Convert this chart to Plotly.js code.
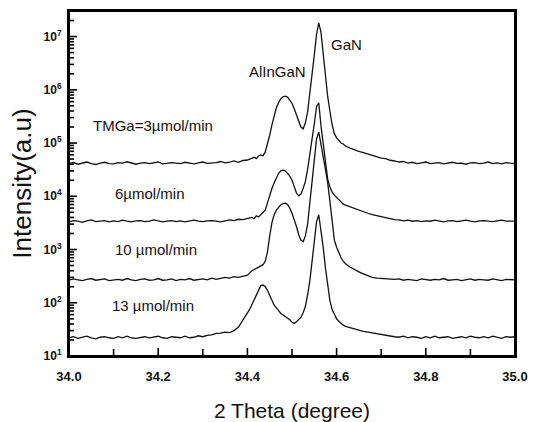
<!DOCTYPE html>
<html>
<head>
<meta charset="utf-8">
<script src="https://cdn.plot.ly/plotly-3.0.1.min.js"></script>
<style>
html,body{margin:0;padding:0;background:#fff;}
#wrap{position:relative;width:536px;height:422px;}
#chart{width:536px;height:422px;}
#frame{position:absolute;left:68px;top:10px;width:448px;height:347px;box-sizing:border-box;border:2px solid #000;pointer-events:none;}
</style>
</head>
<body>
<div id="wrap"><div id="chart"></div><div id="frame"></div></div>
<script>
// 2-theta positions (degree)
var twoTheta = [
 34.00,34.01,34.02,34.03,34.04,34.05,34.06,34.07,34.08,34.09,
 34.10,34.11,34.12,34.13,34.14,34.15,34.16,34.17,34.18,34.19,
 34.20,34.21,34.22,34.23,34.24,34.25,34.26,34.27,34.28,34.29,
 34.30,34.31,34.32,34.33,34.34,34.35,34.36,34.37,34.38,34.39,
 34.40,
 34.405,34.41,34.415,34.42,34.425,34.43,34.435,34.44,34.445,34.45,
 34.455,34.46,34.465,34.47,34.475,34.48,34.485,34.49,34.495,34.50,
 34.505,34.51,34.515,34.52,34.525,34.53,34.535,34.54,34.545,34.55,
 34.555,34.56,34.565,34.57,34.575,34.58,34.585,34.59,34.595,34.60,
 34.605,34.61,34.615,34.62,
 34.63,34.64,34.65,34.66,34.67,34.68,34.69,34.70,34.71,34.72,
 34.73,34.74,34.75,34.76,34.77,34.78,34.79,34.80,34.81,34.82,
 34.83,34.84,34.85,34.86,34.87,34.88,34.89,34.90,34.91,34.92,
 34.93,34.94,34.95,34.96,34.97,34.98,34.99,35.00
];

// TMGa = 3 umol/min
var tmga3 = [
 41000,43000,40000,42500,44000,41000,39500,42000,43500,41000,
 40500,43000,42000,44500,41500,40000,42000,43000,41000,42500,
 44000,40500,41500,43000,42000,41000,43500,42000,40500,42500,
 44000,41500,42000,43000,45000,42500,44000,46000,43500,47000,
 48000,
 50000,52000,54000,51000,57000,60000,58000,68000,95000,140000,
 220000,340000,460000,580000,680000,740000,760000,730000,650000,560000,
 440000,330000,250000,200000,185000,240000,380000,800000,2000000,4500000,
 11000000,18000000,12000000,4500000,1700000,750000,400000,220000,150000,125000,
 112000,100000,96000,88000,
 80000,74000,70000,66000,62000,58500,56000,52000,51000,47500,
 46000,44000,45000,42000,43500,41000,42500,44000,41000,42000,
 43000,40500,42000,43500,41500,42000,40000,42500,43000,41000,
 42000,44000,41000,42500,40500,43000,42000,41500
];

// 6 umol/min
var tmga6 = [
 3300,3500,3400,3250,3450,3600,3350,3400,3500,3300,
 3450,3350,3550,3400,3300,3450,3500,3350,3400,3600,
 3450,3300,3400,3500,3350,3450,3300,3400,3550,3400,
 3350,3450,3500,3400,3300,3450,3600,3500,3700,3650,
 3800,
 3900,4000,3800,4300,4100,4500,4800,5500,7500,10500,
 14000,18000,22000,27000,30000,31000,30000,27000,24000,20000,
 15000,11500,10200,11000,14000,19000,32000,60000,110000,230000,
 480000,570000,210000,95000,40000,21000,15000,12000,10500,9500,
 8500,7600,7100,6800,
 6300,5900,5400,5100,4800,4500,4300,4100,3900,3750,
 3650,3600,3450,3550,3400,3500,3350,3450,3400,3550,
 3400,3300,3450,3500,3350,3400,3550,3400,3300,3450,
 3500,3400,3350,3450,3550,3400,3450,3400
];

// 10 umol/min
var tmga10 = [
 265,280,270,260,275,285,265,270,280,260,
 270,275,265,285,270,260,275,280,265,270,
 285,265,270,280,260,275,270,285,265,275,
 280,270,290,275,285,300,290,310,300,320,
 330,
 360,400,420,440,470,500,520,600,900,1800,
 3200,4500,5500,6200,6900,7300,7400,7000,6000,4800,
 3700,2700,1900,1500,1400,1800,3000,8000,18000,50000,
 120000,160000,100000,55000,32000,18000,8000,3800,1500,1100,
 850,700,600,540,
 470,420,380,350,320,300,290,285,280,275,
 275,280,265,275,270,260,280,270,265,275,
 270,285,265,270,275,260,270,280,265,275,
 270,265,280,270,260,275,270,268
];

// 13 umol/min
var tmga13 = [
 22,23,21.5,22.5,23.5,22,21,22.5,23,22,
 21.5,23,22,23.5,22,21.5,22.5,23,22,22.5,
 23.5,22,21.5,23,22.5,22,23.5,22,22.5,24,
 23,24.5,25,26.5,27,28,27.5,30,35,48,
 62,
 75,92,115,145,180,210,215,200,170,140,
 110,90,80,70,63,59,55,52,48,43,
 41,44,48,53,65,85,140,260,600,1300,
 3300,4500,2300,1100,450,200,110,75,60,50,
 45,41,38,36,
 34,32,30,29,28,27,26,25,24,23.5,
 23,22.5,23.5,22,23,22.5,21.5,23,22,23.5,
 22,22.5,23,21.5,22.5,23,22,23.5,22.5,22,
 23,22,23.5,22.5,21.5,23,22.5,23
];

var seriesList = [tmga3, tmga6, tmga10, tmga13];

var xTickVals = [34.0, 34.2, 34.4, 34.6, 34.8, 35.0];
var xTickText = ['34.0', '34.2', '34.4', '34.6', '34.8', '35.0'];
var xMinorVals = [34.1, 34.3, 34.5, 34.7, 34.9];
var yTickVals = [1e1, 1e2, 1e3, 1e4, 1e5, 1e6, 1e7];
var yTickText = ['10<sup>1</sup>','10<sup>2</sup>','10<sup>3</sup>','10<sup>4</sup>','10<sup>5</sup>','10<sup>6</sup>','10<sup>7</sup>'];

var labelTexts = ['TMGa=3\u00b5mol/min','6\u00b5mol/min','10 \u00b5mol/min','13 \u00b5mol/min','AlInGaN','GaN'];
var labelX = [34.05, 34.098, 34.098, 34.092, 34.468, 34.622];
var labelY = [2.13e5, 1.13e4, 9.8e2, 8.7e1, 2.2e6, 7.1e6];

var X_RANGE = [34, 35];
var Y_LOG_RANGE = [1, 7.48];

var traces = seriesList.map(function (s) {
  return { x: twoTheta, y: s, type: 'scatter', mode: 'lines',
           line: { color: '#111111', width: 1.3 }, hoverinfo: 'skip' };
});

// inside tick marks, built from the axis ranges and tick arrays
var plotW = 536 - 69 - 21, plotH = 422 - 11 - 66;
var xPerPx = (X_RANGE[1] - X_RANGE[0]) / plotW;
var decPerPx = (Y_LOG_RANGE[1] - Y_LOG_RANGE[0]) / plotH;
var yBot = Math.pow(10, Y_LOG_RANGE[0]), yTop = Math.pow(10, Y_LOG_RANGE[1]);
var tickX = [], tickY = [];
xTickVals.concat(xMinorVals).forEach(function (v, i) {
  var len = i < xTickVals.length ? 8 : 7;
  tickX.push(v, v, null);
  tickY.push(yBot, Math.pow(10, Y_LOG_RANGE[0] + len * decPerPx), null);
});
yTickVals.forEach(function (v) {
  tickX.push(X_RANGE[0], X_RANGE[0] + 8 * xPerPx, null);
  tickY.push(v, v, null);
  for (var m = 2; m <= 9; m++) {
    if (v * m > yTop) break;
    tickX.push(X_RANGE[0], X_RANGE[0] + 5 * xPerPx, null);
    tickY.push(v * m, v * m, null);
  }
});
traces.push({ x: tickX, y: tickY, type: 'scatter', mode: 'lines', connectgaps: false,
              line: { color: '#000000', width: 1.6 }, hoverinfo: 'skip' });

var textFont = { family: 'Liberation Sans, Arial, sans-serif', size: 15, color: '#111111' };
var annotations = labelTexts.map(function (t, i) {
  return { x: labelX[i], y: Math.log10(labelY[i]), xref: 'x', yref: 'y', text: t,
           showarrow: false, xanchor: i >= 4 ? 'center' : 'left', yanchor: 'middle', font: textFont };
});

var layout = {
  width: 536, height: 422,
  margin: { l: 69, r: 21, t: 11, b: 66 },
  paper_bgcolor: '#ffffff', plot_bgcolor: '#ffffff',
  showlegend: false,
  xaxis: {
    range: X_RANGE, tickmode: 'array', tickvals: xTickVals,
    ticktext: xTickText.map(function (t) { return '<b>' + t + '</b>'; }),
    ticks: '', showline: true, linewidth: 2, linecolor: '#000000', mirror: true,
    showgrid: false, zeroline: false, ticklabelstandoff: 7,
    tickfont: { family: 'Liberation Sans, Arial, sans-serif', size: 13, color: '#111111' },
    title: { text: '2 Theta (degree)', font: { family: 'Liberation Sans, Arial, sans-serif', size: 21, color: '#111111' }, standoff: 22 }
  },
  yaxis: {
    type: 'log', range: Y_LOG_RANGE,
    tickmode: 'array', tickvals: yTickVals,
    ticktext: yTickText.map(function (t) { return '<b>' + t + '</b>'; }),
    ticks: '', showline: true, linewidth: 2, linecolor: '#000000', mirror: true,
    showgrid: false, zeroline: false, ticklabelstandoff: 3,
    tickfont: { family: 'Liberation Sans, Arial, sans-serif', size: 12, color: '#111111' },
    title: { text: 'Intensity(a.u)', font: { family: 'Liberation Sans, Arial, sans-serif', size: 26, color: '#111111' }, standoff: 4 }
  },
  annotations: annotations
};

Plotly.newPlot('chart', traces, layout, { displayModeBar: false });
</script>
</body>
</html>
